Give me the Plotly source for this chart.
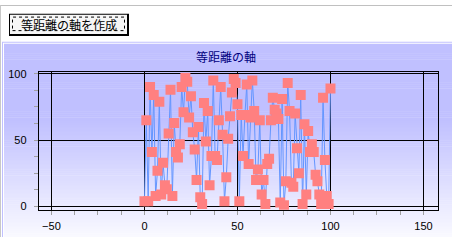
import plotly.graph_objects as go

W, H = 452, 240

# ---- data ----
x_vals = list(range(0, 101))
y_vals = [4, 65, 4, 90, 41, 84, 8, 27, 79, 9,
          33, 16, 13, 55, 88, 8, 63, 41, 37, 47,
          90, 71, 97, 94, 67, 83, 56, 43, 20, 60,
          7, 2, 78, 49, 72, 16, 38, 95, 38, 35,
          65, 90, 54, 4, 22, 51, 68, 86, 96, 93,
          77, 4, 69, 38, 69, 92, 32, 67, 95, 72,
          20, 28, 65, 9, 20, 2, 32, 36, 65, 82,
          73, 70, 66, 3, 81, 1, 19, 93, 72, 18,
          15, 70, 44, 25, 84, 2, 62, 9, 57, 41,
          47, 41, 24, 19, 9, 2, 82, 35, 8, 2, 89]
x_ticks = [-50, 0, 50, 100, 150]
y_ticks = [0, 50, 100]
title_text = "等距離の軸"
button_text = "等距離の軸を作成"


def px(x):
    return x / W


def py(y):
    return 1 - y / H


def rect(x0, y0, x1, y1, fill, line_color=None, line_width=0, dash=None, layer="below"):
    d = dict(type="rect", xref="paper", yref="paper",
             x0=px(x0), x1=px(x1), y0=py(y1), y1=py(y0),
             fillcolor=fill, layer=layer,
             line=dict(width=line_width, color=line_color or "rgba(0,0,0,0)"))
    if dash:
        d["line"]["dash"] = dash
    return d


shapes = []
# window frame lines
shapes.append(rect(0, 0, W, 1, "#c0c0c0"))
shapes.append(rect(0, 0, 1, H, "#c8c8c8"))
# chart panel border
shapes.append(rect(2, 38, W, H, "#c0c0ff"))
shapes.append(rect(3, 39, W, H, "#ffffff"))
# gradient panel
top = (192, 192, 255)
bot = (250, 250, 255)
step = 2
y = 40
while y < H:
    t = max(0.0, min(1.0, (y - 118) / 122.0))
    c = tuple(round(top[i] + (bot[i] - top[i]) * t) for i in range(3))
    shapes.append(rect(4, y, W, min(H, y + step + 0.5), "rgb(%d,%d,%d)" % c))
    y += step

# button
shapes.append(rect(9, 9, 129, 32, "#000000", layer="above"))
shapes.append(rect(10, 10, 127, 30, "#f6f6f6", layer="above"))
shapes.append(dict(type="rect", xref="paper", yref="paper",
                   x0=px(12.5), x1=px(124.5), y0=py(26.5), y1=py(12.5),
                   fillcolor="rgba(0,0,0,0)", layer="above",
                   line=dict(width=1, color="#000000", dash="dot")))

fig = go.Figure()
fig.add_trace(go.Scatter(
    x=x_vals, y=y_vals, mode="lines+markers",
    line=dict(color="#6496ff", width=1),
    marker=dict(symbol="square", size=10, color="#ff8080", line=dict(width=0)),
    hoverinfo="skip", showlegend=False))

axis_common = dict(
    showgrid=True, gridcolor="#000000", gridwidth=1,
    zeroline=False, showline=True, mirror=True,
    linecolor="#000000", linewidth=1,
    ticks="outside", ticklen=4, tickcolor="#a0a0a0", tickwidth=1,
    tickfont=dict(family="Liberation Sans, Arial", size=11, color="#000000"),
    minor=dict(dtick=12.5, tick0=0, ticks="outside", ticklen=4,
               tickcolor="#a0a0a0", tickwidth=1, showgrid=False),
    fixedrange=True,
)

fig.update_layout(
    width=W, height=H,
    margin=dict(l=0, r=0, t=0, b=0, pad=0),
    paper_bgcolor="#ffffff",
    plot_bgcolor="rgba(0,0,0,0)",
    shapes=shapes,
    xaxis=dict(axis_common, range=[-56.8, 157.8], tickvals=x_ticks,
               ticklabelstandoff=2,
               domain=[px(38.8), px(438)]),
    yaxis=dict(axis_common, range=[-2.4, 101.0], tickvals=y_ticks,
               ticklabelstandoff=5,
               domain=[py(211.8), py(69.8)]),
    annotations=[
        dict(text=title_text, xref="paper", yref="paper", x=px(226), y=py(53),
             xanchor="center", yanchor="middle", showarrow=False,
             font=dict(family="Noto Sans CJK JP", size=12, color="#000080")),
        dict(text=button_text, xref="paper", yref="paper", x=px(68.5), y=py(20),
             xanchor="center", yanchor="middle", showarrow=False,
             font=dict(family="Noto Sans CJK JP", size=12, color="#000000")),
    ],
)

fig.write_html("out.html")
